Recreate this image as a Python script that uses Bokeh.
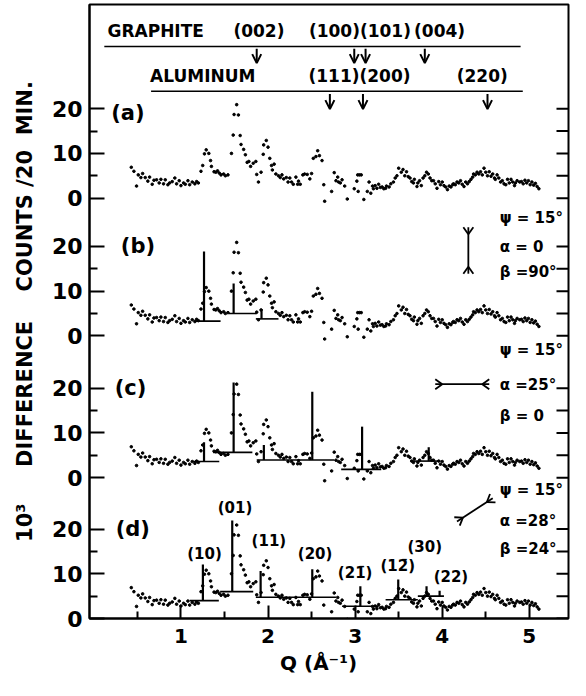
from bokeh.plotting import figure
from bokeh.models import Range1d, FixedTicker, Arrow, OpenHead, ColumnDataSource
from bokeh.embed import file_html
from bokeh.resources import INLINE
from bokeh.core.properties import value

FONT = "DejaVu Sans"

# ---------------- data ----------------
q = [0.43, 0.46, 0.49, 0.51, 0.54, 0.56, 0.59, 0.62, 0.64, 0.67, 0.69, 0.72, 0.75, 0.77, 0.80,
     0.82, 0.85, 0.87, 0.90, 0.93, 0.95, 0.98, 1.00, 1.03, 1.05, 1.08, 1.10, 1.13, 1.16, 1.18,
     1.20, 1.23, 1.25, 1.27, 1.29, 1.32, 1.34, 1.35, 1.38, 1.40, 1.42, 1.44, 1.46, 1.49, 1.51,
     1.54, 1.58, 1.60, 1.61, 1.64, 1.66, 1.68, 1.69, 1.72, 1.74, 1.76, 1.78, 1.80, 1.83, 1.86,
     1.87, 1.89, 1.92, 1.945, 1.95, 1.98, 2.00, 2.02, 2.04, 2.05, 2.07, 2.09, 2.12, 2.14, 2.16,
     2.18, 2.21, 2.23, 2.25, 2.27, 2.29, 2.32, 2.34, 2.35, 2.37, 2.40, 2.42, 2.45, 2.48, 2.50,
     2.52, 2.55, 2.57, 2.59, 2.62, 2.64, 2.65, 2.73, 2.76, 2.78, 2.80, 2.81, 2.83, 2.85, 2.88,
     2.91, 2.99, 3.02, 3.03, 3.035, 3.05, 3.07, 3.10, 3.14, 3.16, 3.18, 3.20, 3.21, 3.23, 3.25,
     3.27, 3.29, 3.31, 3.33, 3.35, 3.36, 3.39, 3.41, 3.44, 3.46, 3.48, 3.50, 3.53, 3.55, 3.57,
     3.59, 3.61, 3.63, 3.65, 3.67, 3.68, 3.71, 3.72, 3.74, 3.76, 3.78, 3.80, 3.82, 3.84, 3.86,
     3.88, 3.90, 3.92, 3.94, 3.96, 3.98, 4.00, 4.02, 4.04, 4.06, 4.08, 4.10, 4.12, 4.13, 4.15,
     4.17, 4.19, 4.21, 4.23, 4.25, 4.27, 4.29, 4.31, 4.33, 4.35, 4.36, 4.38, 4.40, 4.42, 4.44,
     4.46, 4.48, 4.50, 4.52, 4.54, 4.56, 4.58, 4.60, 4.61, 4.63, 4.65, 4.67, 4.69, 4.71, 4.73,
     4.75, 4.77, 4.79, 4.81, 4.83, 4.84, 4.86, 4.89, 4.91, 4.93, 4.95, 4.97, 4.99, 5.01, 5.03,
     5.05, 5.07, 5.09, 5.11]
counts = [6.9, 6.0, 2.7, 5.2, 4.6, 5.5, 4.6, 3.8, 4.7, 3.1, 4.0, 4.1, 3.4, 4.2, 3.2,
          4.1, 3.0, 3.4, 3.7, 4.5, 3.2, 3.9, 2.8, 3.4, 3.1, 3.9, 3.0, 3.6, 3.2, 3.7,
          3.4, 6.0, 7.3, 9.9, 10.8, 10.0, 8.4, 7.1, 5.9, 5.8, 6.1, 5.6, 5.2, 5.4, 5.0,
          5.2, 10.0, 14.1, 18.7, 20.9, 18.6, 14.0, 12.0, 10.9, 9.7, 8.0, 8.2, 7.1, 7.8, 8.2,
          5.3, 3.6, 5.8, 9.8, 11.9, 12.9, 11.4, 8.9, 7.3, 6.3, 7.6, 5.4, 5.0, 4.6, 5.2,
          4.3, 4.6, 3.6, 4.5, 3.6, 3.1, 4.7, 3.1, 3.8, 3.1, 5.2, 5.4, 5.3, 4.3, 5.5,
          8.9, 9.3, 10.6, 9.5, 8.4, 3.0, -0.7, 1.5, 5.7, 3.9, 4.7, 3.6, 3.4, 4.1, 2.7,
          -0.2, 2.1, 3.8, 5.2, 1.5, 5.2, 5.2, -0.3, 1.5, 3.6, 1.1, 2.7, 2.1, 2.8, 2.2,
          3.1, 2.4, 2.5, 2.1, 2.2, 2.7, 2.5, 3.2, 3.6, 4.5, 5.0, 6.7, 5.8, 6.4, 5.0,
          5.9, 4.8, 4.5, 3.7, 3.4, 4.2, 2.6, 3.4, 3.9, 2.8, 4.5, 5.0, 5.8, 5.4, 4.5,
          3.9, 3.9, 3.2, 2.2, 3.7, 3.0, 3.6, 2.8, 2.5, 1.9, 2.7, 2.5, 3.0, 3.2, 3.0,
          3.6, 3.4, 3.9, 3.1, 2.6, 3.6, 3.2, 3.7, 4.2, 4.7, 5.4, 5.2, 5.8, 5.4, 5.9,
          5.2, 6.7, 5.8, 5.0, 5.9, 4.9, 5.4, 4.5, 4.2, 5.2, 4.5, 3.6, 3.9, 3.2, 3.0,
          4.2, 3.4, 4.2, 3.6, 2.8, 3.4, 3.9, 3.6, 3.7, 3.2, 4.0, 3.4, 3.9, 3.0, 3.6,
          2.9, 3.3, 2.6, 2.1]

panel_labels = ["(a)", "(b)", "(c)", "(d)"]
panel_offsets = [94.0, 63.2, 31.5, 0.0]
panel_label_q = [0.20, 0.31, 0.24, 0.25]
panel_label_level = [19.0, 20.0, 20.0, 20.0]

y_major = [0, 10, 20]
y_minor = [5, 15]
x_major = [1, 2, 3, 4, 5]
x_minor = [0.5, 1.5, 2.5, 3.5, 4.5]

# model peaks (vertical bars) and their baselines, per panel
b_peak_q = [1.265, 1.605, 1.925]
b_peak_top = [18.85, 11.7, 6.0]
b_peak_base = [3.3, 5.0, 3.8]
b_base_from = [1.17, 1.55, 1.86]
b_base_to = [1.455, 1.87, 2.12]
b_base_level = [3.3, 5.0, 3.8]

c_peak_q = [1.265, 1.605, 1.952, 2.508, 3.08, 3.845]
c_peak_top = [7.9, 21.3, 7.3, 19.2, 11.4, 6.8]
c_peak_base = [3.6, 5.65, 3.95, 3.95, 1.85, 3.7]
c_base_from = [1.14, 1.37, 1.87, 2.84, 3.64]
c_base_to = [1.44, 1.82, 2.76, 3.30, 3.98]
c_base_level = [3.6, 5.65, 3.95, 1.85, 3.7]

d_peak_q = [1.252, 1.589, 1.915, 2.508, 3.06, 3.495, 3.82, 3.97]
d_peak_top = [12.05, 21.9, 10.6, 11.0, 7.2, 8.7, 7.2, 6.2]
d_peak_base = [4.0, 6.0, 4.75, 4.75, 2.75, 4.2, 5.0, 5.0]
d_base_from = [1.10, 1.45, 1.86, 2.85, 3.35, 3.72]
d_base_to = [1.435, 1.83, 2.78, 3.27, 3.72, 4.02]
d_base_level = [4.0, 6.0, 4.75, 2.75, 4.2, 5.0]

d_hkl = ["(10)", "(01)", "(11)", "(20)", "(21\u0304)", "(12\u0304)", "(30)", "(22)"]
d_hkl_q = [1.27, 1.62, 2.01, 2.54, 3.00, 3.49, 3.80, 4.10]
d_hkl_level = [14.35, 24.6, 17.3, 14.35, 10.1, 11.7, 16.1, 9.2]

graphite_labels = ["GRAPHITE", "(002)", "(100)(101)", "(004)"]
graphite_label_q = [0.71, 1.895, 3.055, 3.97]
graphite_peaks = [1.87, 2.99, 3.12, 3.80]
aluminum_labels = ["ALUMINUM", "(111)(200)", "(220)"]
aluminum_label_q = [1.25, 3.05, 4.46]
aluminum_peaks = [2.71, 3.09, 4.52]

orient_text_b = ["\u03c8 = 15\u00b0", "\u03b1 = 0", "\u03b2 =90\u00b0"]
orient_text_c = ["\u03c8 = 15\u00b0", "\u03b1 =25\u00b0", "\u03b2 = 0"]
orient_text_d = ["\u03c8 = 15\u00b0", "\u03b1 =28\u00b0", "\u03b2 =24\u00b0"]
orient_level_b = [89.6, 83.1, 77.5]
orient_level_c = [60.1, 52.3, 45.2]
orient_level_d = [28.8, 21.7, 15.5]

# ---------------- figure ----------------
X0, X1 = -0.05, 5.45
Y0, Y1 = 0.0, 137.3
W, H = 570, 680
BL, BR, BT, BB = 89, 2, 4, 62

p = figure(width=W, height=H, x_range=Range1d(X0, X1), y_range=Range1d(Y0, Y1),
           output_backend="svg", toolbar_location=None,
           min_border_left=BL, min_border_right=BR, min_border_top=BT, min_border_bottom=BB)
p.grid.visible = False
p.outline_line_color = "black"
p.outline_line_width = 2
p.background_fill_color = "white"
p.border_fill_color = "white"

sx = (W - BL - BR) / (X1 - X0)   # px per Q unit
sy = (H - BT - BB) / (Y1 - Y0)   # px per count unit

y_ticks = []
y_minor_ticks = []
overrides = {}
for off in panel_offsets:
    for t in y_major:
        y_ticks.append(off + t)
        overrides[off + t] = str(t)
    for t in y_minor:
        y_minor_ticks.append(off + t)
yt = FixedTicker(ticks=y_ticks, minor_ticks=y_minor_ticks)

ya = p.yaxis[0]
ya.ticker = yt
ya.major_label_overrides = overrides
ya.major_tick_in = 15
ya.major_tick_out = 0
ya.minor_tick_in = 8
ya.minor_tick_out = 0
ya.major_tick_line_width = 2
ya.minor_tick_line_width = 2
ya.axis_line_width = 2
ya.major_label_standoff = 7
ya.major_label_text_font = FONT
ya.major_label_text_font_style = "bold"
ya.major_label_text_font_size = "22px"
ya.major_label_text_color = "black"
ya.axis_label = "10\u00b3\u00a0\u00a0\u00a0\u00a0\u00a0DIFFERENCE\u00a0\u00a0\u00a0\u00a0COUNTS /20\u00a0\u00a0MIN."
ya.axis_label_text_font = FONT
ya.axis_label_text_font_style = "bold"
ya.axis_label_text_font_size = "21px"
ya.axis_label_standoff = 12
ya.axis_label_text_color = "black"

# inward ticks along the right edge of the frame
right_ticks = y_ticks + y_minor_ticks
p.segment(x0=[X1 - 12 / sx] * len(right_ticks), y0=right_ticks,
          x1=[X1] * len(right_ticks), y1=right_ticks, line_color="black", line_width=2)

xa = p.xaxis[0]
xa.ticker = FixedTicker(ticks=x_major, minor_ticks=x_minor)
xa.major_tick_in = 13
xa.major_tick_out = 0
xa.minor_tick_in = 7
xa.minor_tick_out = 0
xa.major_tick_line_width = 2
xa.minor_tick_line_width = 2
xa.axis_line_width = 2
xa.major_label_standoff = 10
xa.major_label_text_font = FONT
xa.major_label_text_font_style = "bold"
xa.major_label_text_font_size = "20px"
xa.major_label_text_color = "black"
xa.axis_label = "Q (\u00c5\u207b\u00b9)\u00a0\u00a0\u00a0"
xa.axis_label_text_font = FONT
xa.axis_label_text_font_style = "bold"
xa.axis_label_text_font_size = "20px"
xa.axis_label_standoff = 5
xa.axis_label_text_color = "black"

# ---------------- data points (same measured set shown in each panel) ----------------
for off in panel_offsets:
    p.scatter(q, [c + off for c in counts], size=2.6, color="black", marker="circle")

# panel letters
p.text(x=panel_label_q, y=[o + l for o, l in zip(panel_offsets, panel_label_level)], text=panel_labels,
       text_font=value(FONT), text_font_style="bold", text_font_size="21px",
       text_align="left", text_baseline="middle", text_color="black")

# model peak bars and baselines
def draw_model(off, pq, ptop, pbase, bfrom, bto, blevel):
    p.segment(x0=pq, y0=[b + off for b in pbase], x1=pq, y1=[t + off for t in ptop],
              line_color="black", line_width=2.2)
    p.segment(x0=bfrom, y0=[l + off for l in blevel], x1=bto, y1=[l + off for l in blevel],
              line_color="black", line_width=1.6)

draw_model(panel_offsets[1], b_peak_q, b_peak_top, b_peak_base, b_base_from, b_base_to, b_base_level)
draw_model(panel_offsets[2], c_peak_q, c_peak_top, c_peak_base, c_base_from, c_base_to, c_base_level)
draw_model(panel_offsets[3], d_peak_q, d_peak_top, d_peak_base, d_base_from, d_base_to, d_base_level)

p.text(x=d_hkl_q, y=[panel_offsets[3] + l for l in d_hkl_level], text=d_hkl,
       text_font=value(FONT), text_font_style="bold", text_font_size="15px",
       text_align="center", text_baseline="middle", text_color="black")

# ---------------- reference peak markers at top ----------------
G_TEXT, G_LINE, G_A0, G_A1 = 131.3, 127.9, 127.4, 124.2
A_TEXT, A_LINE, A_A0, A_A1 = 121.2, 117.9, 117.3, 113.9

p.text(x=graphite_label_q, y=[G_TEXT] * len(graphite_labels), text=graphite_labels,
       text_font=value(FONT), text_font_style="bold", text_font_size="17px",
       text_align="center", text_baseline="middle", text_color="black")
p.text(x=aluminum_label_q, y=[A_TEXT] * len(aluminum_labels), text=aluminum_labels,
       text_font=value(FONT), text_font_style="bold", text_font_size="17px",
       text_align="center", text_baseline="middle", text_color="black")
p.segment(x0=[0.12, 0.657], y0=[G_LINE, A_LINE], x1=[4.90, 4.925], y1=[G_LINE, A_LINE],
          line_color="black", line_width=1.6)

arrow_src = ColumnDataSource(dict(
    x=graphite_peaks + aluminum_peaks,
    y0=[G_A0] * len(graphite_peaks) + [A_A0] * len(aluminum_peaks),
    y1=[G_A1] * len(graphite_peaks) + [A_A1] * len(aluminum_peaks)))
p.add_layout(Arrow(end=OpenHead(size=9, line_width=2, line_color="black"),
                   x_start="x", y_start="y0", x_end="x", y_end="y1",
                   source=arrow_src, line_width=2, line_color="black"))

# ---------------- orientation annotations ----------------
TQ = 4.66
for texts, levels in ((orient_text_b, orient_level_b), (orient_text_c, orient_level_c),
                      (orient_text_d, orient_level_d)):
    p.text(x=[TQ] * len(texts), y=levels, text=texts,
           text_font=value(FONT), text_font_style="bold", text_font_size="15px",
           text_align="left", text_baseline="middle", text_color="black")

def feathered(qa, ya_, qb, yb):
    # line between two points with inward chevrons at both ends (computed in pixel space)
    xs0, ys0, xs1, ys1 = [qa], [ya_], [qb], [yb]
    ax, ay = qa * sx, ya_ * sy
    bx, by = qb * sx, yb * sy
    L = ((bx - ax) ** 2 + (by - ay) ** 2) ** 0.5
    ux, uy = (bx - ax) / L, (by - ay) / L
    nx, ny = -uy, ux
    depth, half = 7.0, 5.0
    for (ex, ey, dx, dy) in ((ax, ay, ux, uy), (bx, by, -ux, -uy)):
        vx, vy = ex + dx * depth, ey + dy * depth
        for s in (1, -1):
            px_, py_ = ex + s * nx * half, ey + s * ny * half
            xs0.append(px_ / sx); ys0.append(py_ / sy)
            xs1.append(vx / sx); ys1.append(vy / sy)
    p.segment(x0=xs0, y0=ys0, x1=xs1, y1=ys1, line_color="black", line_width=1.8)

feathered(4.30, 77.1, 4.30, 87.5)
feathered(3.92, 52.4, 4.54, 52.4)
feathered(4.17, 21.7, 4.58, 26.9)

open("out.html", "w").write(file_html(p, INLINE))
